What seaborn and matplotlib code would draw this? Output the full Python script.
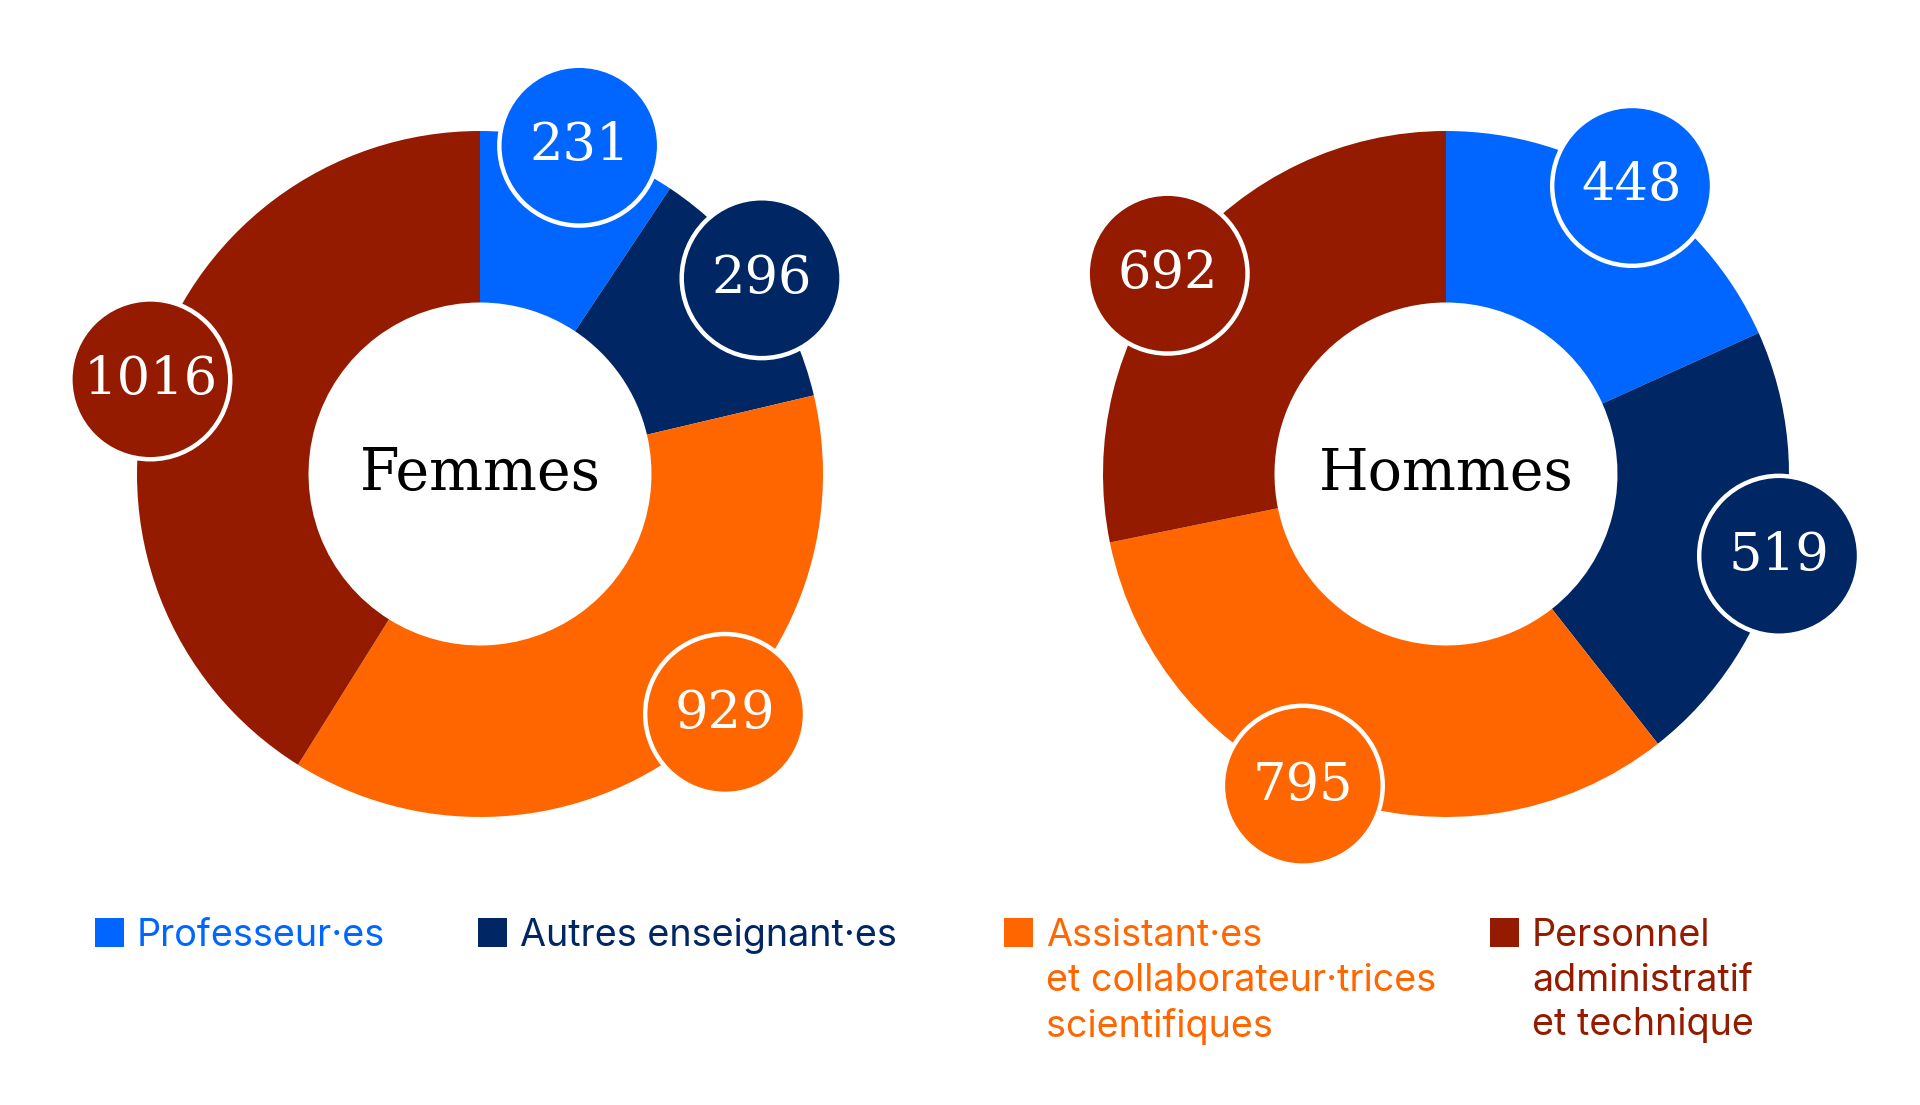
import numpy as np
import matplotlib
matplotlib.use("Agg")
import matplotlib.pyplot as plt
from matplotlib.patches import Circle, Rectangle
import seaborn as sns

categories = ["Professeur·es", "Autres enseignant·es",
              "Assistant·es\net collaborateur·trices\nscientifiques",
              "Personnel\nadministratif\net technique"]
groups = ["Femmes", "Hommes"]
femmes = [231, 296, 929, 1016]
hommes = [448, 519, 795, 692]
colors = ["#0066FF", "#002664", "#FF6600", "#941B00"]
# small nudges of the value bubbles along the ring (degrees)
nudge = {"Femmes": [0, 0, -10, 0], "Hommes": [0, 0, 4.5, -3.5]}

sns.set_theme(style="white")
palette = sns.color_palette(colors)

fig = plt.figure(figsize=(19.2, 11.05), dpi=100)
W, H = 1920, 1105
R = 343  # outer radius in px
centers = {"Femmes": (480, 474), "Hommes": (1446, 474)}
lim = 1.3

for name, vals in zip(groups, [femmes, hommes]):
    cx, cy = centers[name]
    ax = fig.add_axes([(cx - lim * R) / W, (H - cy - lim * R) / H,
                       2 * lim * R / W, 2 * lim * R / H])
    wedges, _ = ax.pie(vals, colors=palette, startangle=90, counterclock=False,
                       radius=1, wedgeprops=dict(width=0.5, linewidth=0))
    for i, w in enumerate(wedges):
        mid = (w.theta1 + w.theta2) / 2 - nudge[name][i]
        x, y = np.cos(np.radians(mid)), np.sin(np.radians(mid))
        ax.add_patch(Circle((x, y), 0.233, facecolor=palette[i], edgecolor="white",
                            linewidth=3.2, zorder=3, clip_on=False))
        ax.text(x, y, str(vals[i]), ha="center", va="center", color="white",
                fontsize=38, family="DejaVu Serif", zorder=4)
    ax.text(0, 0, name, ha="center", va="center", fontsize=41,
            family="DejaVu Serif", color="black")
    ax.set_xlim(-lim, lim)
    ax.set_ylim(-lim, lim)
    ax.set_aspect("equal")
    ax.axis("off")

# legend
sq_x = [95, 478, 1004, 1490]
for i, lab in enumerate(categories):
    fig.patches.append(Rectangle((sq_x[i] / W, 1 - 947 / H), 29 / W, 29 / H,
                                 transform=fig.transFigure, facecolor=colors[i],
                                 edgecolor="none"))
    fig.text((sq_x[i] + 42) / W, 1 - 918 / H, lab, ha="left", va="top",
             color=colors[i], fontsize=27.2, family="Inter", linespacing=1.31)

fig.savefig("out.png", dpi=100, facecolor="white")
